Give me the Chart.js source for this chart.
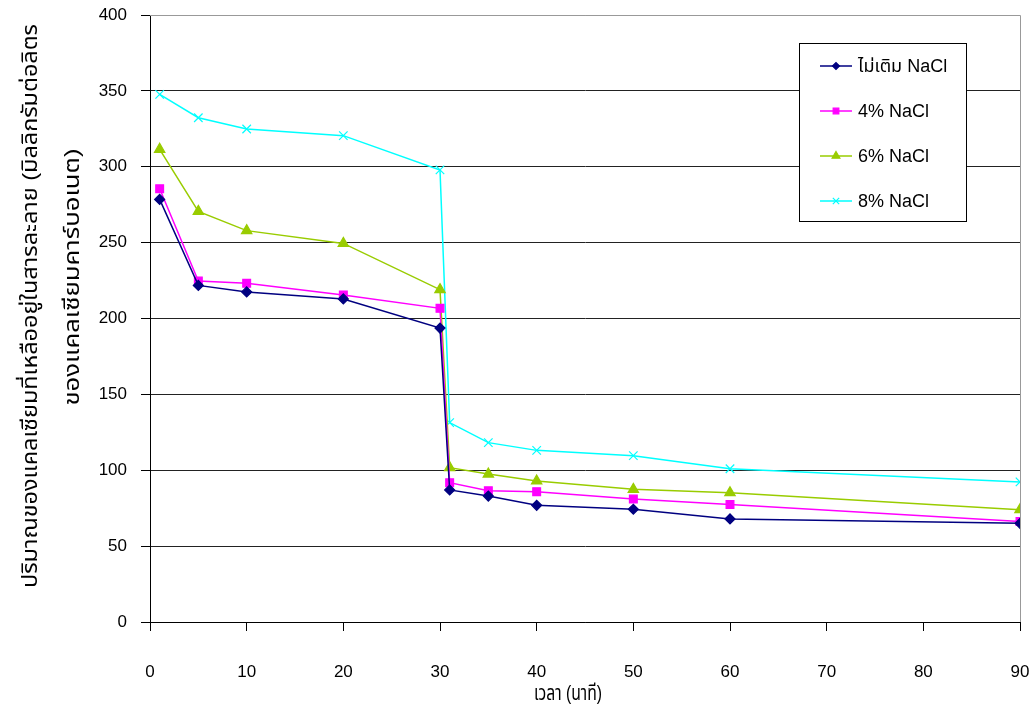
<!DOCTYPE html>
<html>
<head>
<meta charset="utf-8">
<script src="https://cdn.jsdelivr.net/npm/chart.js@4/dist/chart.umd.min.js"></script>
<style>
  html, body { margin: 0; padding: 0; background: #fff; }
  #wrap { width: 1036px; height: 708px; }
</style>
</head>
<body>
<div id="wrap"><canvas id="c" width="1036" height="708"></canvas></div>
<script>
// Sampling times (minutes)
const times = [1, 5, 10, 20, 30, 31, 35, 40, 50, 60, 90];

// Dissolved calcium carbonate remaining (mg/L)
const noSalt = [278.5, 221.8, 217.5, 212.9, 193.7, 87.0, 83.0, 76.9, 74.3, 67.9, 65.0];
const salt4  = [285.5, 224.7, 223.2, 215.5, 206.7, 91.8, 86.5, 85.9, 81.0, 77.5, 66.3];
const salt6  = [311.5, 270.6, 257.9, 249.5, 219.0, 101.7, 97.5, 92.9, 87.4, 85.2, 74.0];
const salt8  = [347.7, 332.3, 324.9, 320.5, 297.9, 131.4, 118.2, 113.1, 109.6, 101.0, 92.3];

const seriesNames = ['ไม่เติม NaCl', '4% NaCl', '6% NaCl', '8% NaCl'];

const xTicks = [0, 10, 20, 30, 40, 50, 60, 70, 80, 90];
const yTicks = [0, 50, 100, 150, 200, 250, 300, 350, 400];

const yTitleLines = ['ปริมาณของแคลเซียมที่เหลืออยู่ในสารละลาย (มิลลิกรัมต่อลิตร', 'ของแคลเซียมคาร์บอเนต)'];
const xTitle = 'เวลา (นาที)';

const FONT = '"Liberation Sans", Arial, "Noto Sans Thai", "Tahoma", sans-serif';

const toPoints = arr => times.map((t, i) => ({ x: t, y: arr[i] }));

const styles = [
  { color: '#000080', pointStyle: 'rectRot', radius: 5 },
  { color: '#FF00FF', pointStyle: 'rect', radius: 5.5 },
  { color: '#99CC00', pointStyle: 'triangle', radius: 6 },
  { color: '#00FFFF', pointStyle: 'crossRot', radius: 6 }
];

const values = [noSalt, salt4, salt6, salt8];

const datasets = values.map((v, i) => ({
  label: seriesNames[i],
  data: toPoints(v),
  borderColor: styles[i].color,
  backgroundColor: styles[i].color,
  borderWidth: 1.5,
  pointStyle: styles[i].pointStyle,
  pointRadius: styles[i].radius,
  pointHoverRadius: styles[i].radius,
  pointBorderColor: styles[i].color,
  pointBackgroundColor: styles[i].color,
  pointBorderWidth: 1.2,
  tension: 0
}));

// Draws a text line centred at (cx, cy), squeezed or stretched to a given length
function fitText(ctx, text, cx, cy, len, angle) {
  const w = ctx.measureText(text).width;
  ctx.save();
  ctx.translate(cx, cy);
  ctx.rotate(angle);
  ctx.scale(len / w, 1);
  ctx.fillText(text, 0, 0);
  ctx.restore();
}

// Frame, axis titles and legend box
const decor = {
  id: 'decor',
  afterDraw(chart) {
    const ctx = chart.ctx;
    const a = chart.chartArea;
    ctx.save();
    // top/right frame of the plot area
    ctx.strokeStyle = '#999';
    ctx.lineWidth = 1;
    ctx.beginPath();
    ctx.moveTo(a.left, a.top + 0.5);
    ctx.lineTo(a.right + 0.5, a.top + 0.5);
    ctx.lineTo(a.right + 0.5, a.bottom);
    ctx.stroke();

    // y-axis title (two rotated lines)
    ctx.fillStyle = '#000';
    ctx.font = '21px ' + FONT;
    ctx.textAlign = 'center';
    ctx.textBaseline = 'middle';
    fitText(ctx, yTitleLines[0], 31, 306, 564, -Math.PI / 2);
    fitText(ctx, yTitleLines[1], 73, 277, 257, -Math.PI / 2);

    // x-axis title
    ctx.font = '21px ' + FONT;
    fitText(ctx, xTitle, 568, 694, 68, 0);

    // legend box
    const bx = 799.5, by = 43.5, bw = 167, bh = 178;
    ctx.fillStyle = '#fff';
    ctx.fillRect(bx, by, bw, bh);
    ctx.strokeStyle = '#000';
    ctx.lineWidth = 1;
    ctx.strokeRect(bx, by, bw, bh);
    const rows = [66, 111, 156, 201];
    chart.data.datasets.forEach((ds, i) => {
      const y = rows[i];
      ctx.strokeStyle = ds.borderColor;
      ctx.lineWidth = 1.5;
      ctx.beginPath();
      ctx.moveTo(820, y);
      ctx.lineTo(852, y);
      ctx.stroke();
      ctx.fillStyle = ds.pointBackgroundColor;
      ctx.strokeStyle = ds.pointBorderColor;
      ctx.lineWidth = 1.2;
      Chart.helpers.drawPoint(ctx, {
        pointStyle: ds.pointStyle,
        radius: ds.pointRadius - 1.5,
        rotation: 0,
        borderWidth: 1.2
      }, 836, y);
      ctx.fillStyle = '#000';
      ctx.font = '18px ' + FONT;
      ctx.textAlign = 'left';
      ctx.textBaseline = 'middle';
      ctx.fillText(ds.label, 858, y + 1);
    });
    ctx.restore();
  }
};

new Chart(document.getElementById('c'), {
  type: 'line',
  data: { datasets },
  options: {
    responsive: false,
    animation: false,
    devicePixelRatio: 1,
    layout: { padding: { left: 0, top: 15, right: 16, bottom: 0 } },
    plugins: {
      legend: { display: false },
      tooltip: { enabled: false }
    },
    scales: {
      x: {
        type: 'linear',
        min: 0,
        max: 90,
        afterBuildTicks: s => { s.ticks = xTicks.map(v => ({ value: v })); },
        afterFit: s => { s.height = 86; s.paddingLeft = 0; s.paddingRight = 0; },
        grid: { drawOnChartArea: false, drawTicks: true, tickLength: 9, color: '#000', tickColor: '#000' },
        border: { color: '#000', width: 1 },
        ticks: { color: '#000', font: { family: FONT, size: 17 }, padding: 31, maxRotation: 0 }
      },
      y: {
        type: 'linear',
        min: 0,
        max: 400,
        afterBuildTicks: s => { s.ticks = yTicks.map(v => ({ value: v })); },
        afterFit: s => { s.width = 150; s.paddingTop = 0; s.paddingBottom = 0; },
        grid: {
          drawOnChartArea: true,
          drawTicks: true,
          tickLength: 9,
          color: c => (c.tick && c.tick.value === 400 ? '#999' : '#222'),
          tickColor: '#000'
        },
        border: { color: '#000', width: 1 },
        ticks: { color: '#000', font: { family: FONT, size: 17 }, padding: 14 }
      }
    }
  },
  plugins: [decor]
});
</script>
</body>
</html>
